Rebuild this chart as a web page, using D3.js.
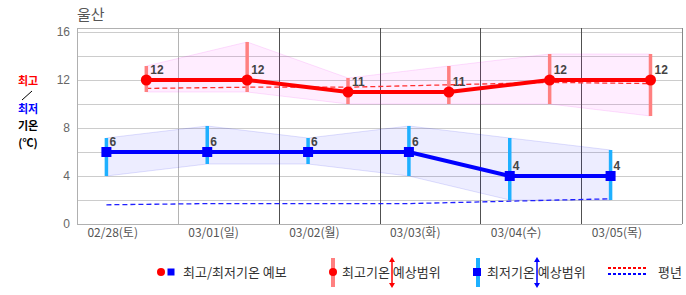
<!DOCTYPE html>
<html>
<head>
<meta charset="utf-8">
<script src="https://cdn.jsdelivr.net/npm/d3@7/dist/d3.min.js"></script>
<style>
  body { margin: 0; background: #fff; }
  svg text { font-family: "Noto Sans CJK KR", "Liberation Sans", sans-serif; }
  .num { font-family: "Liberation Sans", Arial, sans-serif; }
</style>
</head>
<body>
<script>
// forecast data, Ulsan
var city = "울산";
var dates = ["02/28(토)", "03/01(일)", "03/02(월)", "03/03(화)", "03/04(수)", "03/05(목)"];
var maxTemp = [12, 12, 11, 11, 12, 12];
var maxHigh = [13, 15, 12, 13, 14, 14];
var maxLow = [11, 11, 10, 10, 10, 9];
var minTemp = [6, 6, 6, 6, 4, 4];
var minHigh = [7, 8, 7, 8, 7, 6];
var minLow = [4, 5, 5, 4, 2, 2];
var normalMax = [11.3, 11.4, 11.4, 11.6, 11.8, 11.7];
var normalMin = [1.6, 1.7, 1.7, 1.7, 1.9, 2.1];
var yTicks = [0, 4, 8, 12, 16];
var yGrid = [2, 4, 6, 8, 10, 12, 14, 16];

// hour of day where each series is placed
var minHour = 7, maxHour = 16.5, labelHour = 8.5;

var w = 686, h = 295;
var plotLeft = 77, plotRight = 682, plotTop = 28, plotBottom = 224;

var svg = d3.select("body").append("svg")
  .attr("width", w).attr("height", h);

var x = d3.scaleLinear().domain([0, 24 * dates.length]).range([plotLeft, plotRight]);
var y = d3.scaleLinear().domain([0, 16]).range([plotBottom, 32]);

function xAt(i, hour) { return x(i * 24 + hour); }

// title
svg.append("text")
  .attr("x", plotLeft).attr("y", 20)
  .style("font-size", "15px").style("fill", "#555")
  .text(city);

// left caption
var cap = svg.append("g").style("font-size", "11px").style("font-weight", "bold")
  .attr("text-anchor", "middle");
cap.append("text").attr("x", 28).attr("y", 85).style("fill", "#ff0000").text("최고");
cap.append("text").attr("x", 28).attr("y", 113).style("fill", "#0000ff").text("최저");
cap.append("text").attr("x", 28).attr("y", 130).style("fill", "#000").text("기온");
cap.append("text").attr("x", 28).attr("y", 147).style("fill", "#000").text("(℃)");
svg.append("line").attr("x1", 22).attr("y1", 100).attr("x2", 32).attr("y2", 91)
  .style("stroke", "#000").style("stroke-width", 1);

// horizontal grid
svg.selectAll(".hgrid").data(yGrid).enter().append("line")
  .attr("class", "hgrid")
  .attr("x1", plotLeft).attr("x2", plotRight)
  .attr("y1", function(d) { return y(d) + 0.5; })
  .attr("y2", function(d) { return y(d) + 0.5; })
  .style("stroke", "#cccccc");

// frame
svg.append("line").attr("x1", plotLeft).attr("x2", plotRight).attr("y1", plotTop + 0.5).attr("y2", plotTop + 0.5)
  .style("stroke", "#b0b0b0");
svg.append("line").attr("x1", plotLeft).attr("x2", plotRight).attr("y1", plotBottom + 0.5).attr("y2", plotBottom + 0.5)
  .style("stroke", "#b0b0b0");
svg.append("line").attr("x1", plotLeft + 0.5).attr("x2", plotLeft + 0.5).attr("y1", plotTop).attr("y2", plotBottom)
  .style("stroke", "#b0b0b0");

// day separators
var days = d3.range(1, dates.length + 1);
svg.selectAll(".vgrid").data(days).enter().append("line")
  .attr("class", "vgrid")
  .attr("x1", function(d) { return Math.round(x(d * 24)) + 0.5; })
  .attr("x2", function(d) { return Math.round(x(d * 24)) + 0.5; })
  .attr("y1", plotTop).attr("y2", plotBottom)
  .style("stroke", function(d, i) { return i === 0 ? "#b4b4b4" : (i === days.length - 1 ? "#888" : "#505050"); });

// y tick labels
svg.selectAll(".ytick").data(yTicks).enter().append("text")
  .attr("class", "ytick num")
  .attr("x", 70).attr("y", function(d) { return y(d) + 4; })
  .attr("text-anchor", "end")
  .style("font-size", "12px").style("fill", "#666")
  .text(function(d) { return d; });

// x tick labels
svg.selectAll(".xtick").data(dates).enter().append("text")
  .attr("class", "xtick")
  .attr("x", function(d, i) { return xAt(i, labelHour); })
  .attr("y", 237)
  .attr("text-anchor", "middle")
  .style("font-size", "12px").style("fill", "#555")
  .text(function(d) { return d; });

// range bands
var idx = d3.range(dates.length);
var maxBand = d3.area()
  .x(function(i) { return xAt(i, maxHour); })
  .y0(function(i) { return y(maxLow[i]); })
  .y1(function(i) { return y(maxHigh[i]) - 2; });
var minBand = d3.area()
  .x(function(i) { return xAt(i, minHour); })
  .y0(function(i) { return y(minLow[i]); })
  .y1(function(i) { return y(minHigh[i]) - 2; });

svg.append("path").datum(idx).attr("d", maxBand)
  .style("fill", "rgba(255,0,255,0.07)").style("stroke", "rgba(230,0,230,0.12)");
svg.append("path").datum(idx).attr("d", minBand)
  .style("fill", "rgba(0,0,255,0.07)").style("stroke", "rgba(0,0,230,0.12)");

// normal (평년) lines
var normMaxLine = d3.line()
  .x(function(i) { return xAt(i, maxHour); })
  .y(function(i) { return y(normalMax[i]); });
var normMinLine = d3.line()
  .x(function(i) { return xAt(i, minHour); })
  .y(function(i) { return y(normalMin[i]); });
svg.append("path").datum(idx).attr("d", normMaxLine)
  .style("fill", "none").style("stroke", "#ff3030").style("stroke-width", 1.3)
  .style("stroke-dasharray", "5,3");
svg.append("path").datum(idx).attr("d", normMinLine)
  .style("fill", "none").style("stroke", "#2020ff").style("stroke-width", 1.3)
  .style("stroke-dasharray", "5,3");

// range bars
svg.selectAll(".maxbar").data(idx).enter().append("line")
  .attr("x1", function(i) { return xAt(i, maxHour); })
  .attr("x2", function(i) { return xAt(i, maxHour); })
  .attr("y1", function(i) { return y(maxHigh[i]) - 2; })
  .attr("y2", function(i) { return y(maxLow[i]); })
  .style("stroke", "#ff8080").style("stroke-width", 3.5);
svg.selectAll(".minbar").data(idx).enter().append("line")
  .attr("x1", function(i) { return xAt(i, minHour); })
  .attr("x2", function(i) { return xAt(i, minHour); })
  .attr("y1", function(i) { return y(minHigh[i]) - 2; })
  .attr("y2", function(i) { return y(minLow[i]); })
  .style("stroke", "#1eb0ff").style("stroke-width", 3.5);

// main lines
var maxLine = d3.line()
  .x(function(i) { return xAt(i, maxHour); })
  .y(function(i) { return y(maxTemp[i]); });
var minLine = d3.line()
  .x(function(i) { return xAt(i, minHour); })
  .y(function(i) { return y(minTemp[i]); });
svg.append("path").datum(idx).attr("d", maxLine)
  .style("fill", "none").style("stroke", "#ff0000").style("stroke-width", 4);
svg.append("path").datum(idx).attr("d", minLine)
  .style("fill", "none").style("stroke", "#0000ff").style("stroke-width", 4);

// markers
svg.selectAll(".maxpt").data(idx).enter().append("circle")
  .attr("cx", function(i) { return xAt(i, maxHour); })
  .attr("cy", function(i) { return y(maxTemp[i]); })
  .attr("r", 5.5)
  .style("fill", "#ff0000");
svg.selectAll(".minpt").data(idx).enter().append("rect")
  .attr("x", function(i) { return xAt(i, minHour) - 5; })
  .attr("y", function(i) { return y(minTemp[i]) - 5; })
  .attr("width", 10).attr("height", 10)
  .style("fill", "#0000ff");

// value labels
svg.selectAll(".maxlbl").data(idx).enter().append("text")
  .attr("class", "num")
  .attr("x", function(i) { return xAt(i, maxHour) + 4; })
  .attr("y", function(i) { return y(maxTemp[i]) - 6; })
  .style("font-size", "12px").style("font-weight", "bold").style("fill", "#444")
  .text(function(i) { return maxTemp[i]; });
svg.selectAll(".minlbl").data(idx).enter().append("text")
  .attr("class", "num")
  .attr("x", function(i) { return xAt(i, minHour) + 3; })
  .attr("y", function(i) { return y(minTemp[i]) - 6; })
  .style("font-size", "12px").style("font-weight", "bold").style("fill", "#444")
  .text(function(i) { return minTemp[i]; });

// legend
var lg = svg.append("g");
var ly = 272;
var lfont = "13px";

lg.append("circle").attr("cx", 161).attr("cy", ly).attr("r", 4).style("fill", "#ff0000");
lg.append("rect").attr("x", 167.5).attr("y", ly - 3.5).attr("width", 7).attr("height", 7).style("fill", "#0000ff");
lg.append("text").attr("x", 183).attr("y", ly + 5).style("font-size", lfont).style("fill", "#333")
  .text("최고/최저기온 예보");

function arrow(cx, color) {
  lg.append("line").attr("x1", cx).attr("x2", cx).attr("y1", 260).attr("y2", 285)
    .style("stroke", color).style("stroke-width", 1.5);
  lg.append("path").attr("d", "M" + (cx - 3) + ",262 L" + cx + ",257 L" + (cx + 3) + ",262 Z").style("fill", color);
  lg.append("path").attr("d", "M" + (cx - 3) + ",283 L" + cx + ",288 L" + (cx + 3) + ",283 Z").style("fill", color);
}

lg.append("line").attr("x1", 333).attr("x2", 333).attr("y1", 258).attr("y2", 287)
  .style("stroke", "#ff8080").style("stroke-width", 4);
lg.append("circle").attr("cx", 333).attr("cy", ly).attr("r", 4).style("fill", "#ff0000");
lg.append("text").attr("x", 342).attr("y", ly + 5).style("font-size", lfont).style("fill", "#333")
  .text("최고기온 예상범위");
arrow(392, "#ff0000");

lg.append("line").attr("x1", 478).attr("x2", 478).attr("y1", 258).attr("y2", 287)
  .style("stroke", "#1eb0ff").style("stroke-width", 4);
lg.append("rect").attr("x", 473).attr("y", ly - 4).attr("width", 8).attr("height", 8).style("fill", "#0000ff");
lg.append("text").attr("x", 487).attr("y", ly + 5).style("font-size", lfont).style("fill", "#333")
  .text("최저기온 예상범위");
arrow(537, "#0000ff");

lg.append("line").attr("x1", 608).attr("x2", 648).attr("y1", 268).attr("y2", 268)
  .style("stroke", "#ff0000").style("stroke-width", 2).style("stroke-dasharray", "3,2");
lg.append("line").attr("x1", 608).attr("x2", 648).attr("y1", 274).attr("y2", 274)
  .style("stroke", "#0000ff").style("stroke-width", 2).style("stroke-dasharray", "3,2");
lg.append("text").attr("x", 658).attr("y", ly + 5).style("font-size", lfont).style("fill", "#333")
  .text("평년");
</script>
</body>
</html>
